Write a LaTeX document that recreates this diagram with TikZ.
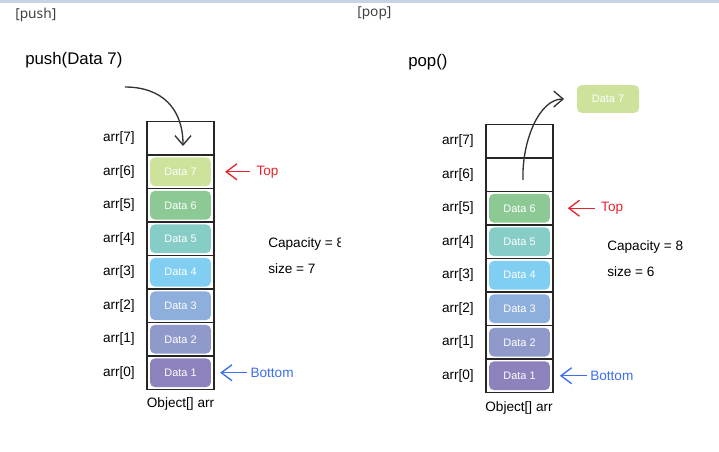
\documentclass[tikz,border=0pt]{standalone}
\usepackage{fontspec}
\setmainfont{Liberation Sans}
\newfontfamily\tagfont{Noto Sans}
\usepackage{xcolor}
\usetikzlibrary{arrows.meta,positioning}
\definecolor{data1}{HTML}{8E82BD}
\definecolor{data2}{HTML}{8F9ACB}
\definecolor{data3}{HTML}{8EAEDB}
\definecolor{data4}{HTML}{80CFF2}
\definecolor{data5}{HTML}{86CCC7}
\definecolor{data6}{HTML}{8CC994}
\definecolor{data7}{HTML}{CDE29A}
\definecolor{topred}{HTML}{E8242B}
\definecolor{botblue}{HTML}{3D6EF0}
\definecolor{barblue}{HTML}{C9D2E3}

\begin{document}
\begin{tikzpicture}[
  x=0.75pt, y=0.75pt,
  font=\fontsize{10.2}{12}\selectfont,
  cell/.style={draw=black!85, line width=1.2pt, minimum width=50.6pt, minimum height=25.1pt, inner sep=0pt, outer sep=0pt},
  data/.style={fill=#1, rounded corners=3.5pt, minimum width=45.5pt, minimum height=21.5pt, inner sep=0pt, text=white, font=\fontsize{8.2}{10}\selectfont},
  idx/.style={inner sep=0pt},
  tag/.style={font=\tagfont\fontsize{10.3}{12}\selectfont, text=black!75, anchor=west, inner sep=0pt},
  title/.style={font=\fontsize{12.6}{15}\selectfont, anchor=west, inner sep=0pt},
  info/.style={anchor=west, inner sep=0pt},
  toplbl/.style={text=topred, inner sep=0pt},
  botlbl/.style={text=botblue, inner sep=0pt},
  ptr/.style={-{Straight Barb[length=8pt,width=12pt]}, line width=1pt, #1},
  curve/.style={-{Straight Barb[length=7pt,width=12pt]}, line width=1pt, black!80},
]
\useasboundingbox (0,0) rectangle (719,-451);
\fill[barblue] (0,0) rectangle (719,-3);

% push side
\node[tag] (pushtag) at (15,-15) {[push]};
\node[title] (pushcall) at (25,-60) {push(Data 7)};
\foreach \i in {0,...,7} \node[cell] (l\i) at (180.5,{-389.5+33.5*\i+16.75}) {};
\foreach \i in {0,...,7} \node[idx, left=8.8pt of l\i] {arr[\i]};
\foreach \i/\n in {0/1,1/2,2/3,3/4,4/5,5/6,6/7} \node[data=data\n] (ld\n) at (l\i) {Data \n};
\coordinate (pushfrom) at (125,-87);
\coordinate (pushto) at (183,-146);
\draw[curve] (pushfrom) to[out=0, in=90, looseness=1.15] (pushto);
\node[toplbl, right=31.5pt of l6] (ltop) {Top};
\draw[ptr=topred, shorten <=4.5pt, shorten >=8.2pt] (ltop.west) -- (l6.east);
\node[botlbl, right=27pt of l0] (lbot) {Bottom};
\draw[ptr=botblue, shorten <=2.2pt, shorten >=4.5pt] (lbot.west) -- (l0.east);
\begin{scope}
  \clip (0,0) rectangle (340,-451);
  \node[info] (lcap) at (268,-244) {Capacity = 8};
\end{scope}
\node[info] (lsize) at (268,-269) {size = 7};
\node (larr) at (180.5,-404) {Object[] arr};

% pop side
\node[tag] (poptag) at (357,-13) {[pop]};
\node[title] (popcall) at (408,-62) {pop()};
\foreach \i in {0,...,7} \node[cell] (r\i) at (519.5,{-392.5+33.5*\i+16.75}) {};
\foreach \i in {0,...,7} \node[idx, left=8.8pt of r\i] {arr[\i]};
\foreach \i/\n in {0/1,1/2,2/3,3/4,4/5,5/6} \node[data=data\n] (rd\n) at (r\i) {Data \n};
\node[data=data7, minimum width=46.5pt, minimum height=20.8pt] (rd7) at (608,-99) {Data 7};
\coordinate (popfrom) at (523,-180);
\draw[curve, shorten >=9.5pt] (popfrom) to[out=92, in=180] (rd7.west);
\node[toplbl, right=35.8pt of r5] (rtop) {Top};
\draw[ptr=topred, shorten <=4.5pt, shorten >=10.9pt] (rtop.west) -- (r5.east);
\node[botlbl, right=27.6pt of r0] (rbot) {Bottom};
\draw[ptr=botblue, shorten <=2.2pt, shorten >=5pt] (rbot.west) -- (r0.east);
\node[info] (rcap) at (607,-246.5) {Capacity = 8};
\node[info] (rsize) at (607,-271.5) {size = 6};
\node (rarr) at (519,-408) {Object[] arr};
\end{tikzpicture}
\end{document}
